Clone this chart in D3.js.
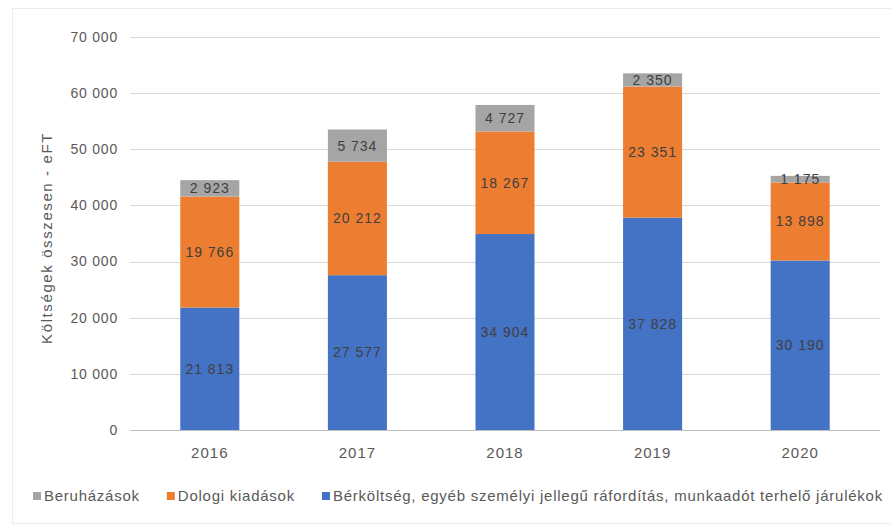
<!DOCTYPE html>
<html><head><meta charset="utf-8">
<script src="https://cdn.jsdelivr.net/npm/d3@7"></script>
<style>body{margin:0;background:#fff}svg{display:block}text{font-family:"Liberation Sans",Arial,sans-serif}</style>
</head><body>
<svg id="c" width="891" height="528"></svg>
<script>
const years = ["2016","2017","2018","2019","2020"];
const berkoltseg = [21813, 27577, 34904, 37828, 30190];
const dologi = [19766, 20212, 18267, 23351, 13898];
const beruhazasok = [2923, 5734, 4727, 2350, 1175];
const seriesNames = ["Bérköltség, egyéb személyi jellegű ráfordítás, munkaadót terhelő járulékok","Dologi kiadások","Beruházások"];
const seriesColors = ["#4472C4","#ED7D31","#A5A5A5"];
const yTicks = [0,10000,20000,30000,40000,50000,60000,70000];
const yTitle = "Költségek összesen - eFT";

const svg = d3.select("#c");
svg.append("rect").attr("x",12.5).attr("y",8.5).attr("width",885).attr("height",515).attr("fill","#fff").attr("stroke","#ececec");

const x = d3.scaleBand().domain(years).range([136,874]).paddingInner(0.6).paddingOuter(0.3);
const y = d3.scaleLinear().domain([0,70000]).range([430,37]);
const fmt = v => d3.format(",")(v).replace(/,/g," ");

const g = svg.append("g");
yTicks.forEach(t=>{
  g.append("line").attr("x1",130).attr("x2",880).attr("y1",Math.round(y(t))+0.5).attr("y2",Math.round(y(t))+0.5)
   .attr("stroke", t===0?"#bfbfbf":"#d9d9d9");
  g.append("text").attr("x",118).attr("y",y(t)).attr("dy","0.35em").attr("text-anchor","end")
   .attr("font-size",14).attr("letter-spacing",0.8).attr("fill","#595959").text(fmt(t));
});

const data = years.map((yr,i)=>({year:yr, s0:berkoltseg[i], s1:dologi[i], s2:beruhazasok[i]}));
const stack = d3.stack().keys(["s0","s1","s2"])(data);
stack.forEach((layer,li)=>{
  layer.forEach(d=>{
    const yr=d.data.year;
    g.append("rect").attr("x",x(yr)).attr("width",x.bandwidth())
     .attr("y",y(d[1])).attr("height",y(d[0])-y(d[1])).attr("fill",seriesColors[li]);
  });
});
stack.forEach((layer,li)=>{
  layer.forEach(d=>{
    const yr=d.data.year;
    g.append("text").attr("x",x(yr)+x.bandwidth()/2).attr("y",(y(d[0])+y(d[1]))/2).attr("dy","0.35em")
     .attr("text-anchor","middle").attr("font-size",14).attr("letter-spacing",1).attr("fill","#404040").text(fmt(d[1]-d[0]));
  });
});

years.forEach(yr=>{
  g.append("text").attr("x",x(yr)+x.bandwidth()/2).attr("y",453).attr("dy","0.35em").attr("text-anchor","middle")
   .attr("font-size",15).attr("letter-spacing",1).attr("fill","#595959").text(yr);
});

svg.append("text").attr("transform","translate(47,238) rotate(-90)").attr("text-anchor","middle").attr("dy","0.35em")
  .attr("font-size",15).attr("letter-spacing",1.6).attr("fill","#595959").text(yTitle);

// legend
const legOrder = [2,1,0];
let lx = 33;
const leg = svg.append("g");
legOrder.forEach(i=>{
  leg.append("rect").attr("x",lx).attr("y",492).attr("width",8).attr("height",8).attr("fill",seriesColors[i]);
  const t = leg.append("text").attr("x",lx+11).attr("y",496).attr("dy","0.35em").attr("font-size",15)
    .attr("letter-spacing",0.75).attr("fill","#595959").text(seriesNames[i]);
  lx += 11 + t.node().getComputedTextLength() + 27;
});
</script>
</body></html>
